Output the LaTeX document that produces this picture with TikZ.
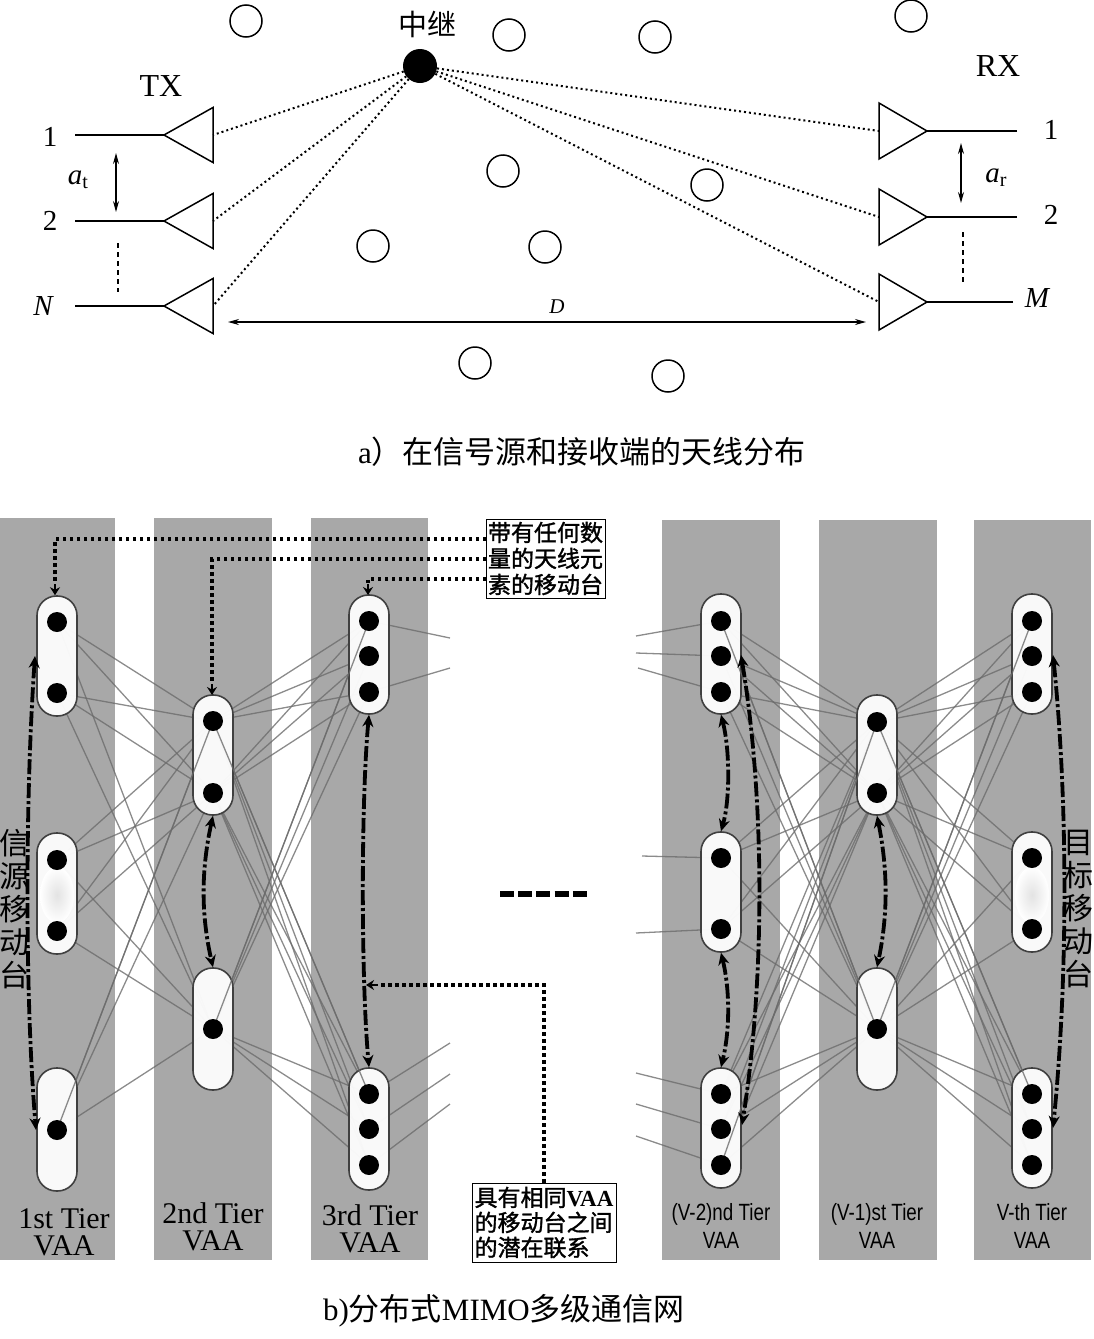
\documentclass[tikz,border=0pt]{standalone}
\usepackage{fontspec}
\setmainfont{Liberation Serif}
\newfontfamily\cjk{Noto Sans CJK SC}
\newfontfamily\cjkb[FakeBold=1.4]{Noto Sans CJK SC}
\newfontfamily\narrowsans[FakeStretch=0.8]{Liberation Sans}
\usetikzlibrary{arrows.meta}
\newcommand{\fsz}[1]{\fontsize{#1}{#1}\selectfont}
\pgfdeclarelayer{bands}\pgfdeclarelayer{wires}\pgfdeclarelayer{caps}\pgfdeclarelayer{inner}
\pgfsetlayers{bands,wires,caps,inner,main}
\definecolor{bandgray}{gray}{0.66}
\tikzset{
 x=1pt,y=-1pt,
 hollow/.style={circle,draw=black,line width=1.5pt,fill=white,minimum size=32pt,inner sep=0},
 relay/.style={circle,fill=black,minimum size=34pt,inner sep=0},
 ant/.style={line width=1.5pt,line join=miter},
 feed/.style={line width=2pt},
 radio/.style={line width=2pt,dash pattern=on 2pt off 3pt,black},
 lab/.style={inner sep=0,font=\fsz{29}},
 span/.style={{Stealth[length=11pt,width=6pt]}-{Stealth[length=11pt,width=6pt]},line width=1.3pt},
 vdots/.style={line width=1.3pt,dash pattern=on 5pt off 4pt},
 band/.style={fill=bandgray,draw=none},
 capsule/.style={rectangle,draw=black!75,line width=1.6pt,fill=white,fill opacity=0.94,draw opacity=1,rounded corners=19.5pt,minimum width=40pt,inner sep=0},
 mdot/.style={circle,fill=black,minimum size=20pt,inner sep=0},
 wire/.style={line width=1.3pt,black!58,opacity=0.78},
 tie/.style={line width=3.8pt,dash pattern=on 15pt off 3pt on 3pt off 3pt,black,{Stealth[length=12pt,width=11pt]}-{Stealth[length=12pt,width=11pt]}},
 callout/.style={line width=3.6pt,dash pattern=on 3.5pt off 3.5pt,black},
 calltip/.style={line width=2pt,-{Stealth[length=8pt,width=10pt]}},
 note/.style={draw=black,line width=1pt,fill=white,inner sep=1pt},
 tierserif/.style={align=center,inner sep=0,font=\fsz{30}},
 tiersans/.style={align=center,inner sep=0,font=\narrowsans\fsz{23.5}},
}
\begin{document}
\begin{tikzpicture}
\useasboundingbox (0,0) rectangle (1093,1339);
%% ---------- part a
\foreach \n/\px/\py in {h1/246/21,h2/509/35,h3/655/37,h4/911/16,h5/503/171,h6/707/185,h7/373/246,h8/545/247,h9/475/363,h10/668/376}
  \node[hollow] (\n) at (\px,\py) {};
\node[relay] (relay) at (420,66) {};
\node[lab,font=\cjk\fsz{29}] (relaylab) at (427,24) {中继};
\node[lab,font=\fsz{32}] (txlab) at (161,86) {TX};
\node[lab,font=\fsz{32}] (rxlab) at (998,66) {RX};
% TX antennas
\foreach \n/\py in {tx1/135,tx2/221,tx3/306}{
  \coordinate (\n) at (213,\py);
  \coordinate (\n a) at (164,\py);
  \coordinate (\n f) at (75,\py);
  \draw[ant] (\n a) -- (213,\py-27.5) -- (213,\py+27.5) -- cycle;
  \draw[feed] (\n f) -- (\n a);
  \draw[radio] (relay) -- (\n);
}
% RX antennas
\foreach \n/\py/\fx in {rx1/131/1017,rx2/217/1017,rx3/302/1013}{
  \coordinate (\n) at (879,\py);
  \coordinate (\n a) at (927,\py);
  \coordinate (\n f) at (\fx,\py);
  \draw[ant] (\n a) -- (879,\py-28) -- (879,\py+28) -- cycle;
  \draw[feed] (\n f) -- (\n a);
  \draw[radio] (relay) -- (\n);
}
\node[lab] (t1) at (50,137) {1};
\node[lab] (t2) at (50,221) {2};
\node[lab,font=\fsz{29}\itshape] (tN) at (43,306) {N};
\node[lab] (r1) at (1051,130) {1};
\node[lab] (r2) at (1051,215) {2};
\node[lab,font=\fsz{29}\itshape] (rM) at (1037,298) {M};
\node[lab] (at) at (78,180) {{\itshape a}\raisebox{-4pt}{\fsz{20}t}};
\node[lab] (ar) at (996,178) {{\itshape a}\raisebox{-4pt}{\fsz{20}r}};
\coordinate (at1) at (116,153); \coordinate (at2) at (116,212);
\coordinate (ar1) at (961,143); \coordinate (ar2) at (961,203);
\draw[span] (at1) -- (at2);
\draw[span] (ar1) -- (ar2);
\coordinate (td1) at (118,243); \coordinate (td2) at (118,292);
\coordinate (rd1) at (963,232); \coordinate (rd2) at (963,283);
\draw[vdots] (td1) -- (td2);
\draw[vdots] (rd1) -- (rd2);
\coordinate (D1) at (228,322); \coordinate (D2) at (866,322);
\draw[span] (D1) -- (D2);
\node[lab,font=\fsz{21}\itshape] (Dlab) at (557,307) {D};
\node[lab,font=\fsz{31}] (capa) at (582,452) {a{\cjk）在信号源和接收端的天线分布}};
%% ---------- part b: bands
\begin{pgfonlayer}{bands}
\foreach \n/\xa/\xb/\ya in {b1/0/115/518,b2/154/272/518,b3/311/428/518,b4/662/780/520,b5/819/937/520,b6/974/1091/520}
  \fill[band] (\xa,\ya) rectangle (\xb,1260);
\end{pgfonlayer}
%% capsules
\begin{pgfonlayer}{caps}
\foreach \n/\px/\ya/\yb in {
  ca1/57/596/716,ca2/57/833/954,ca3/57/1068/1191,
  cb1/213/695/815,cb2/213/968/1090,
  cc1/369/595/714,cc2/369/1068/1190,
  cd1/721/594/714,cd2/721/832/952,cd3/721/1068/1188,
  ce1/877/695/815,ce2/877/968/1090,
  cf1/1032/594/714,cf2/1032/832/952,cf3/1032/1068/1188}
  \node[capsule,minimum height={\yb-\ya}] (\n) at (\px,{(\ya+\yb)/2}) {};
\shade[inner color=gray!22,outer color=white] (57,895) ellipse (17pt and 28pt);
\shade[inner color=gray!22,outer color=white] (1032,895) ellipse (17pt and 28pt);
\end{pgfonlayer}
%% dots
\foreach \n/\px/\py in {
  a1/57/622,a2/57/693,a3/57/860,a4/57/931,a5/57/1130,
  b1/213/721,b2/213/793,b3/213/1029,
  c1/369/621,c2/369/656,c3/369/692,c4/369/1094,c5/369/1129,c6/369/1165,
  d1/721/621,d2/721/656,d3/721/692,d4/721/858,d5/721/929,d6/721/1094,d7/721/1129,d8/721/1165,
  e1/877/722,e2/877/793,e3/877/1029,
  f1/1032/621,f2/1032/656,f3/1032/692,f4/1032/858,f5/1032/929,f6/1032/1094,f7/1032/1129,f8/1032/1165}
  \node[mdot] (\n) at (\px,\py) {};
%% wires
\begin{pgfonlayer}{wires}
\foreach \p in {a1,a2,a3,a4,a5} \foreach \q in {b1,b2,b3} \draw[wire] (\p.center) -- (\q.center);
\foreach \p in {b1,b2,b3} \foreach \q in {c1,c2,c3,c4,c5,c6} \draw[wire] (\p.center) -- (\q.center);
\foreach \p in {d1,d2,d3,d4,d5,d6,d7,d8} \foreach \q in {e1,e2,e3} \draw[wire] (\p.center) -- (\q.center);
\foreach \p in {e1,e2,e3} \foreach \q in {f1,f2,f3,f4,f5,f6,f7,f8} \draw[wire] (\p.center) -- (\q.center);
\foreach \p/\px/\py in {c1/450/638,c3/450/668,c4/450/1043,c5/450/1074,c6/450/1104,
  d1/636/636,d2/636/653,d3/638/668,d4/642/856,d5/636/933,d6/636/1073,d7/636/1104,d8/636/1136}{
  \coordinate (stub\p) at (\px,\py);
  \draw[wire] (\p.center) -- (stub\p);
}
\end{pgfonlayer}
%% wires that show through the capsules
\begin{pgfonlayer}{inner}
\foreach \p/\q in {a5/b1,b1/c4,b3/c1,d8/e1,e1/f6,e3/d1,e3/f1}
  \draw[wire] (\p.center) -- (\q.center);
\end{pgfonlayer}
%% same-VAA ties
\coordinate (t1a) at (35,656); \coordinate (t1b) at (36,1130);
\draw[tie] (t1a) .. controls (25,800) and (25,1000) .. (t1b);
\draw[tie] (cb1.south) .. controls (201,870) and (201,915) .. (cb2.north);
\draw[tie] (cc1.south) .. controls (361,800) and (361,980) .. (cc2.north);
\draw[tie] (cd1.south) .. controls (730,750) and (730,800) .. (cd2.north);
\draw[tie] (cd2.south) .. controls (730,990) and (730,1030) .. (cd3.north);
\coordinate (t4a) at (741,655); \coordinate (t4b) at (742,1125);
\draw[tie] (t4a) .. controls (765,800) and (765,980) .. (t4b);
\draw[tie] (ce1.south) .. controls (888,870) and (888,915) .. (ce2.north);
\coordinate (t6a) at (1053,655); \coordinate (t6b) at (1053,1128);
\draw[tie] (t6a) .. controls (1068,800) and (1068,980) .. (t6b);
%% gap dashes
\coordinate (gap1) at (500,894); \coordinate (gap2) at (587,894);
\draw[line width=6.5pt,dash pattern=on 14pt off 4.2pt] (gap1) -- (gap2);
%% callouts
\node[note,minimum width=119pt,minimum height=79pt,align=center,font=\cjkb\fsz{23}] (note1) at (545.5,558.5)
  {带有任何数\\[3pt]量的天线元\\[3pt]素的移动台};
\coordinate (n1a) at (486,539); \coordinate (n1b) at (486,559); \coordinate (n1c) at (486,579);
\draw[callout] (n1a) -- (55,539) -- (55,582);
\draw[calltip] (55,584) -- (ca1.north-|55,596);
\draw[callout] (n1b) -- (212,559) -- (212,682);
\draw[calltip] (212,684) -- (212,695);
\draw[callout] (n1c) -- (368,579) -- (368,583);
\draw[calltip] (368,584) -- (368,595);
\node[note,minimum width=144pt,minimum height=79pt,align=left,font=\fsz{23}] (note2) at (544,1222.5)
  {{\cjkb 具有相同}{\bfseries VAA}\\[2pt]{\cjkb 的移动台之间}\\[2pt]{\cjkb 的潜在联系}};
\coordinate (n2t) at (366,985);
\draw[callout] (note2.north) -- (544,985) -- (378,985);
\draw[calltip] (378,985) -- (n2t);
%% tier labels
\node[tierserif] (l1) at (64,1232) {1st Tier\\[-3pt]VAA};
\node[tierserif] (l2) at (213,1227) {2nd Tier\\[-3pt]VAA};
\node[tierserif] (l3) at (370,1229) {3rd Tier\\[-3pt]VAA};
\node[tiersans] (l4) at (721,1226) {(V-2)nd Tier\\[5pt]VAA};
\node[tiersans] (l5) at (877,1226) {(V-1)st Tier\\[5pt]VAA};
\node[tiersans] (l6) at (1032,1226) {V-th Tier\\[5pt]VAA};
\node[align=center,inner sep=0,font=\cjk\fsz{30}] (src) at (14,909) {信\\[3pt]源\\[3pt]移\\[3pt]动\\[3pt]台};
\node[align=center,inner sep=0,font=\cjk\fsz{30}] (dst) at (1078,909) {目\\[3pt]标\\[3pt]移\\[3pt]动\\[3pt]台};
\node[lab,font=\fsz{31}] (capb) at (504,1311) {b){\cjk 分布式}MIMO{\cjk 多级通信网}};
\end{tikzpicture}
\end{document}
